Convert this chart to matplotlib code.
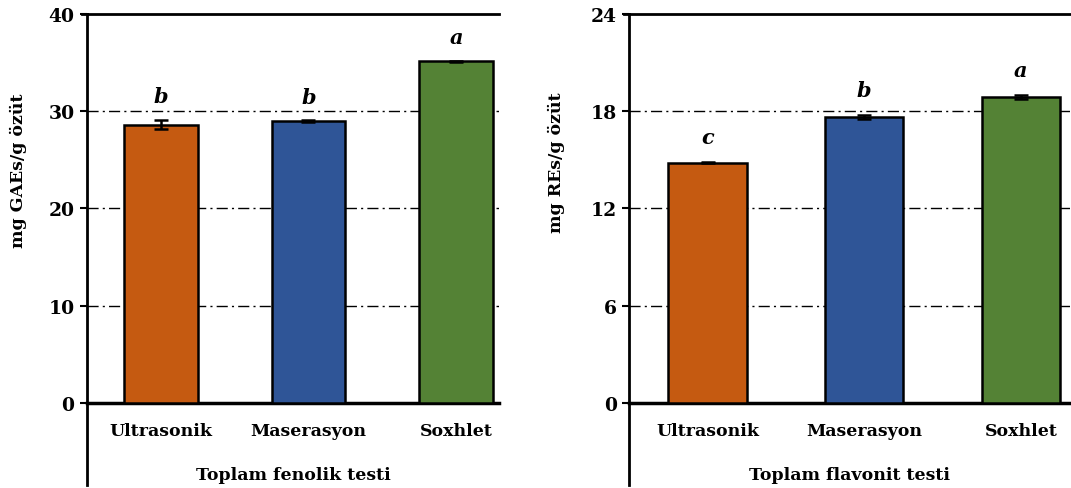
import numpy as np
import matplotlib
matplotlib.use('Agg')
import matplotlib.pyplot as plt

# Datos
metodos = ['Ultrasonik', 'Maserasyon', 'Soxhlet']
fenolik = [28.6, 28.95, 35.1]
fenolik_err = [0.5, 0.08, 0.05]
fenolik_harf = ['b', 'b', 'a']
flavonit = [14.8, 17.6, 18.85]
flavonit_err = [0.03, 0.12, 0.1]
flavonit_harf = ['c', 'b', 'a']
renkler = ['#C55A11', '#2F5597', '#548235']

plt.rcParams['font.family'] = ['DejaVu Serif']
plt.rcParams['font.weight'] = 'bold'

fig = plt.figure(figsize=(10.71, 4.89), dpi=100)
ax1 = fig.add_axes([0.0812, 0.1738, 0.3847, 0.7965])
ax2 = fig.add_axes([0.5876, 0.1738, 0.4110, 0.7965])


def panel(ax, vals, errs, harfler, ymax, yticks, ylabel, xlabel, xmax, harf_off):
    x = np.arange(len(metodos))
    ax.bar(x, vals, width=0.5, color=renkler, edgecolor='black', linewidth=1.8, zorder=3)
    ax.errorbar(x, vals, yerr=errs, fmt='none', ecolor='black', elinewidth=1.8,
                capsize=5, capthick=1.8, zorder=4)
    for xi, v, e, h in zip(x, vals, errs, harfler):
        ax.annotate(h, (xi, v + e), xytext=(0, harf_off), textcoords='offset points',
                    ha='center', va='center', fontsize=15, fontstyle='italic',
                    fontweight='bold')
    ax.set_ylim(0, ymax)
    ax.set_xlim(-0.5, xmax)
    ax.set_yticks(yticks)
    ax.set_yticklabels([str(t) for t in yticks], fontsize=13.5, fontweight='bold')
    for t in yticks[1:-1]:
        ax.axhline(t, color='black', linestyle=(0, (8, 3, 1.5, 3)), linewidth=1.0, zorder=1)
    ax.set_xticks(x)
    ax.set_xticklabels(metodos, fontsize=12.5, fontweight='bold')
    ax.tick_params(axis='x', length=0, pad=14)
    ax.tick_params(axis='y', direction='out', length=5, width=1.5, pad=4)
    ax.spines['right'].set_visible(False)
    ax.spines['top'].set_linewidth(2)
    ax.spines['left'].set_linewidth(2)
    ax.spines['bottom'].set_linewidth(2.5)
    # uzatilmis sol eksen cizgisi
    ax.plot([0, 0], [0, -0.21], transform=ax.transAxes, color='black', lw=2, clip_on=False)
    # ust cizgi icin tick
    ax.plot([-0.012, 0], [1, 1], transform=ax.transAxes, color='black', lw=2, clip_on=False)
    ax.set_ylabel(ylabel, fontsize=12.5, fontweight='bold')
    ax.set_xlabel(xlabel, fontsize=12.5, fontweight='bold', labelpad=19)


panel(ax1, fenolik, fenolik_err, fenolik_harf, 40, [0, 10, 20, 30, 40],
      'mg GAEs/g özüt', 'Toplam fenolik testi', 2.29, 17)
panel(ax2, flavonit, flavonit_err, flavonit_harf, 24, [0, 6, 12, 18, 24],
      'mg REs/g özüt', 'Toplam flavonit testi', 2.31, 18)

ax1.yaxis.set_label_coords(-0.146, 0.60)
ax2.yaxis.set_label_coords(-0.146, 0.62)

fig.savefig('out.png', dpi=100)
